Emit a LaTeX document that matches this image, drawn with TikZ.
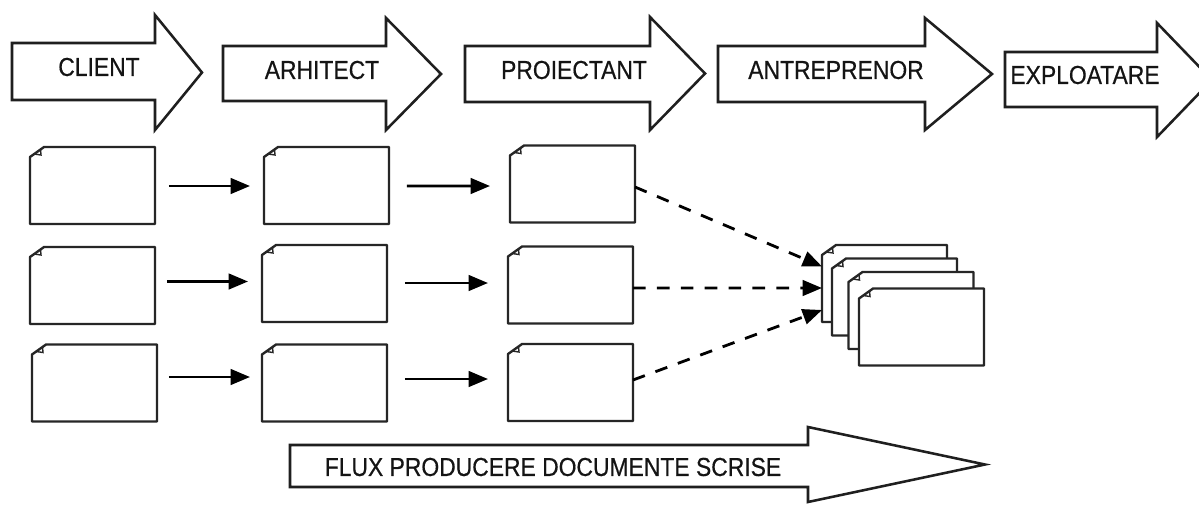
\documentclass[tikz,border=0pt]{standalone}
\usepackage{fontspec}
\usepackage{graphicx}
\setmainfont{Liberation Sans}
\newfontfamily\lblfont[FakeBold=0.5]{Liberation Sans}
\usetikzlibrary{arrows.meta,calc}
\tikzset{
  bigarrow/.style={draw=black!88, line width=1.45pt, fill=white, line join=miter},
  lbl/.style={inner sep=0pt, outer sep=0pt, font=\lblfont\fontsize{14.8}{16}\selectfont, text=black!92},
  docbox/.style={inner sep=0pt, outer sep=0pt, minimum width=2.5cm, minimum height=1.54cm},
  docline/.style={draw=black!85, line width=1.35pt, fill=white, line join=round},
  foldline/.style={draw=black!85, line width=0.8pt},
  flow/.style={draw=black, line width=1.6pt, -{Triangle[length=11pt,width=8.8pt]}},
  dflow/.style={draw=black, line width=1.6pt, dash pattern=on 7.2pt off 6.4pt, -{Triangle[length=11pt,width=8.8pt]}}
}
\newcommand{\nar}[1]{\scalebox{0.88}[1]{#1}}
\newcommand{\docat}[3]{%
  \node[docbox] (#1) at (#2,#3) {};
  \draw[docline] ($(#1.north west)+(0,10)$) -- ($(#1.north west)+(14,0)$) -- (#1.north east) -- (#1.south east) -- (#1.south west) -- cycle;
  \draw[foldline] ($(#1.north west)+(4.2,7)$) -- ($(#1.north west)+(11,8)$) -- ($(#1.north west)+(10.5,2.5)$);
}
\begin{document}
\begin{tikzpicture}[x=0.02cm,y=-0.02cm]
\clip (0,0) rectangle (1199,504);
\fill[white] (0,0) rectangle (1199,504);

% top arrows
\draw[bigarrow] (12,43)--(155,43)--(155,15)--(202,72.5)--(155,130)--(155,100)--(12,100)--cycle;
\node[lbl] (tclient) at (99,67) {\nar{CLIENT}};
\draw[bigarrow] (223,46)--(386,46)--(386,18)--(441,74)--(386,130)--(386,101)--(223,101)--cycle;
\node[lbl] (tarh) at (322,70) {\nar{ARHITECT}};
\draw[bigarrow] (465,46)--(650,46)--(650,17)--(705,73.5)--(650,130)--(650,102)--(465,102)--cycle;
\node[lbl] (tpro) at (574,70) {\nar{PROIECTANT}};
\draw[bigarrow] (718,46)--(925,46)--(925,18)--(992,74)--(925,130)--(925,102)--(718,102)--cycle;
\node[lbl] (tant) at (836,70) {\nar{ANTREPRENOR}};
\draw[bigarrow] (1005,52)--(1157,52)--(1157,23)--(1212,80)--(1157,137)--(1157,107)--(1005,107)--cycle;
\node[lbl] (texp) at (1085,75) {\nar{EXPLOATARE}};

% documents
\docat{d11}{92.5}{185.5}
\docat{d12}{326.5}{185.5}
\docat{d13}{572.5}{184}
\docat{d21}{92.5}{285.5}
\docat{d22}{324.5}{283.5}
\docat{d23}{570.5}{285}
\docat{d31}{94.5}{383}
\docat{d32}{324.5}{383}
\docat{d33}{570.5}{382.5}

% stack
\docat{s1}{884.5}{283.5}
\docat{s2}{894.5}{297}
\docat{s3}{911}{310.5}
\docat{s4}{921.5}{327}

% solid arrows
\draw[flow] ($(d11.east)+(14,0.5)$) -- ($(d12.west)+(-14,0.5)$);
\draw[flow] ($(d21.east)+(12,-4)$) -- ($(d22.west)+(-14,-2)$);
\draw[flow] ($(d31.east)+(12,-6)$) -- ($(d32.west)+(-12,-6)$);
\draw[flow] ($(d12.east)+(18,0.5)$) -- ($(d13.west)+(-20,2)$);
\draw[flow] ($(d22.east)+(18,-0.5)$) -- ($(d23.west)+(-20,-2)$);
\draw[flow] ($(d32.east)+(18,-4)$) -- ($(d33.west)+(-20,-3.5)$);

% dashed arrows
\draw[dflow] ($(d13.east)+(0,3)$) -- ($(s1.west)+(0,-17)$);
\draw[dflow] ($(d23.east)+(0,3)$) -- ($(s1.west)+(0,4.5)$);
\draw[dflow] ($(d33.east)+(0,-2.5)$) -- ($(s1.west)+(0,26.5)$);

% bottom arrow
\draw[bigarrow] (290,445)--(808,445)--(808,427)--(985,464.5)--(808,502)--(808,487)--(290,487)--cycle;
\node[lbl] (tflux) at (553,467) {\nar{FLUX PRODUCERE DOCUMENTE SCRISE}};
\end{tikzpicture}
\end{document}
